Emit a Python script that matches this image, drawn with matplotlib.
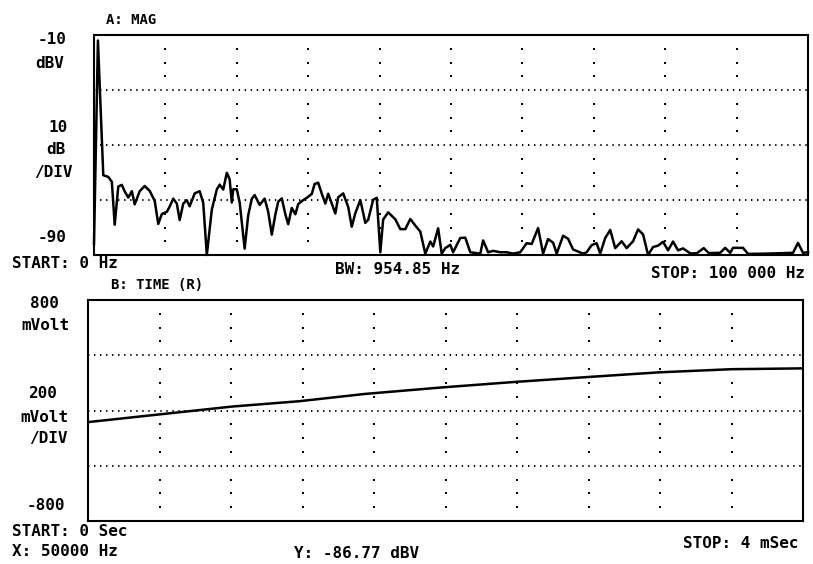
import numpy as np
import matplotlib.pyplot as plt

# trace A: magnitude spectrum, 0 - 100 kHz
spec_khz = [0.0, 0.55, 1.3, 2.0, 2.5, 2.9, 3.4, 3.9, 4.3, 4.8,
            5.3, 5.7, 6.4, 7.1, 7.8, 8.5, 9.0, 9.5, 10.2, 10.6,
            11.1, 11.6, 12.0, 12.5, 13.0, 13.4, 14.1, 14.8, 15.3, 15.8,
            16.5, 17.2, 17.6, 18.1, 18.6, 19.0, 19.3, 19.5, 20.0, 20.4,
            21.1, 21.6, 22.1, 22.5, 23.2, 23.9, 24.4, 24.9, 25.4, 25.8,
            26.3, 26.8, 27.2, 27.7, 28.2, 28.6, 29.1, 29.8, 30.5, 30.9,
            31.4, 31.9, 32.4, 32.8, 33.3, 33.8, 34.2, 34.9, 35.6, 36.1,
            36.6, 37.3, 38.0, 38.4, 39.1, 39.6, 40.1, 40.5, 41.2, 42.2,
            42.9, 43.6, 44.3, 45.0, 45.7, 46.4, 47.1, 47.5, 48.2, 48.7,
            49.2, 49.9, 50.3, 51.3, 52.0, 52.7, 54.1, 54.5, 55.2, 55.9,
            56.9, 57.8, 58.7, 59.7, 60.6, 61.3, 62.2, 62.9, 63.6, 64.3,
            64.8, 65.7, 66.4, 67.1, 68.5, 69.0, 69.7, 70.4, 70.9, 71.6,
            72.3, 73.0, 73.9, 74.6, 75.5, 76.2, 76.9, 77.6, 78.3, 79.0,
            79.7, 80.4, 81.1, 81.8, 82.5, 83.5, 84.4, 85.4, 86.1, 87.7,
            88.4, 89.1, 89.5, 90.2, 90.9, 91.6, 94.2, 97.9, 98.6, 99.3,
            100.0]
spec_dbv = [-86, -12, -61, -61.6, -63.4, -79, -65.1, -64.5, -66.9, -69.1,
            -66.8, -71.6, -66.8, -64.9, -66.7, -70.3, -78.7, -75.1, -74.3, -72.4,
            -69.5, -71.3, -77.3, -71.3, -70.1, -72.3, -67.6, -66.8, -71.1, -90,
            -73.5, -66.2, -64.4, -66.2, -60.1, -62.5, -70.9, -66.1, -66.1, -70.9,
            -87.7, -75.5, -69.6, -68.2, -71.8, -69.5, -74.3, -82.6, -75.3, -70.6,
            -69.4, -75.2, -78.8, -72.9, -75.2, -71.5, -70.4, -69.2, -67.8, -64.2,
            -63.7, -67.7, -71.3, -67.7, -71.3, -74.9, -69.0, -67.6, -72.5, -79.7,
            -74.8, -70.0, -78.3, -77.2, -69.9, -69.2, -89, -77.1, -74.5, -77.0,
            -80.6, -80.6, -76.9, -79.3, -81.5, -89.5, -85.1, -86.9, -80.3, -89.5,
            -87.5, -86.3, -89, -83.8, -83.7, -89, -89.5, -84.7, -89, -88.5,
            -89, -89, -89.5, -89, -85.7, -86, -80.2, -89.5, -84.2, -85.5,
            -89.5, -83.0, -84.1, -88, -89.5, -89, -86.4, -85.7, -89.5, -83.8,
            -80.9, -87.5, -85.0, -87.5, -85, -80.7, -82.5, -90, -87.1, -86.6,
            -85.2, -88.3, -85.1, -88.3, -87.6, -89.4, -89.4, -87.5, -89.3, -89.2,
            -87.4, -89.2, -87.4, -87.4, -87.4, -89.6, -89.5, -89.2, -85.6, -89.2,
            -89]

# trace B: time record, 0 - 4 ms
time_ms = [0, 0.43, 0.81, 1.18, 1.55, 1.98, 2.39, 2.78, 3.19, 3.60, 4.0]
time_mv = [-84, -24, 29, 67, 120, 167, 207, 241, 276, 299, 305]

W, H = 813, 564
plt.rcParams['font.family'] = ['DejaVu Sans Mono', 'DejaVu Sans']
plt.rcParams['font.weight'] = 'bold'
fig = plt.figure(figsize=(W / 100, H / 100), dpi=100)


def px(x, y):
    return x / W, 1 - y / H


def label(x, y, s, ha='center', size=11.5):
    fx, fy = px(x, y)
    fig.text(fx, fy, s, ha=ha, va='center', fontsize=size, color='black')


def panel(rect, xlim, ylim, nx=10, ny=4, sub=4):
    ax = fig.add_axes(rect)
    ax.set_xlim(*xlim)
    ax.set_ylim(*ylim)
    ax.set_xticks([])
    ax.set_yticks([])
    for s in ax.spines.values():
        s.set_linewidth(1.5)
    xs = np.linspace(xlim[0], xlim[1], nx + 1)[1:-1]
    ys = np.linspace(ylim[0], ylim[1], ny + 1)
    # dotted horizontal divisions
    for y in ys[1:-1]:
        ax.axhline(y, color='black', lw=1.4, ls=(0, (0.7, 2.4)), dash_capstyle='butt')
    # sparse dots on the vertical divisions
    ydots = np.linspace(ylim[0], ylim[1], ny * sub + 1)[1:-1]
    ydots = [v for i, v in enumerate(ydots, 1) if i % sub]
    for x in xs:
        ax.plot([x] * len(ydots), ydots, ls='none', marker='s', ms=1.8,
                color='black', mew=0)
    return ax


def rect(l, t, r, b):
    return [l / W, 1 - b / H, (r - l) / W, (b - t) / H]


ax1 = panel(rect(94, 35, 808, 255), (0, 100), (-90, -10))
ax1.plot(spec_khz, spec_dbv, color='black', lw=1.8, clip_on=False)

ax2 = panel(rect(88, 300, 803, 521), (0, 4), (-800, 800))
ax2.plot(time_ms, time_mv, color='black', lw=1.8)

# header / scale annotations for trace A
label(131, 20, 'A: MAG', size=10)
label(52, 40, '-10')
label(50, 63, 'dBV')
label(58, 127, '10')
label(56, 150, 'dB')
label(53, 172, '/DIV')
label(52, 238, '-90')
label(12, 264, 'START: 0 Hz', ha='left')
label(398, 269, 'BW: 954.85 Hz')
label(805, 274, 'STOP: 100 000 Hz', ha='right')

# trace B
label(157, 285, 'B: TIME (R)', size=10)
label(44, 303, '800')
label(45, 326, 'mVolt')
label(43, 393, '200')
label(44, 417, 'mVolt')
label(48, 438, '/DIV')
label(46, 505, '-800')
label(12, 532, 'START: 0 Sec', ha='left')
label(798, 543, 'STOP: 4 mSec', ha='right')
label(12, 552, 'X: 50000 Hz', ha='left')
label(357, 553, 'Y: -86.77 dBV')

fig.savefig('out.png', dpi=100, facecolor='white')
